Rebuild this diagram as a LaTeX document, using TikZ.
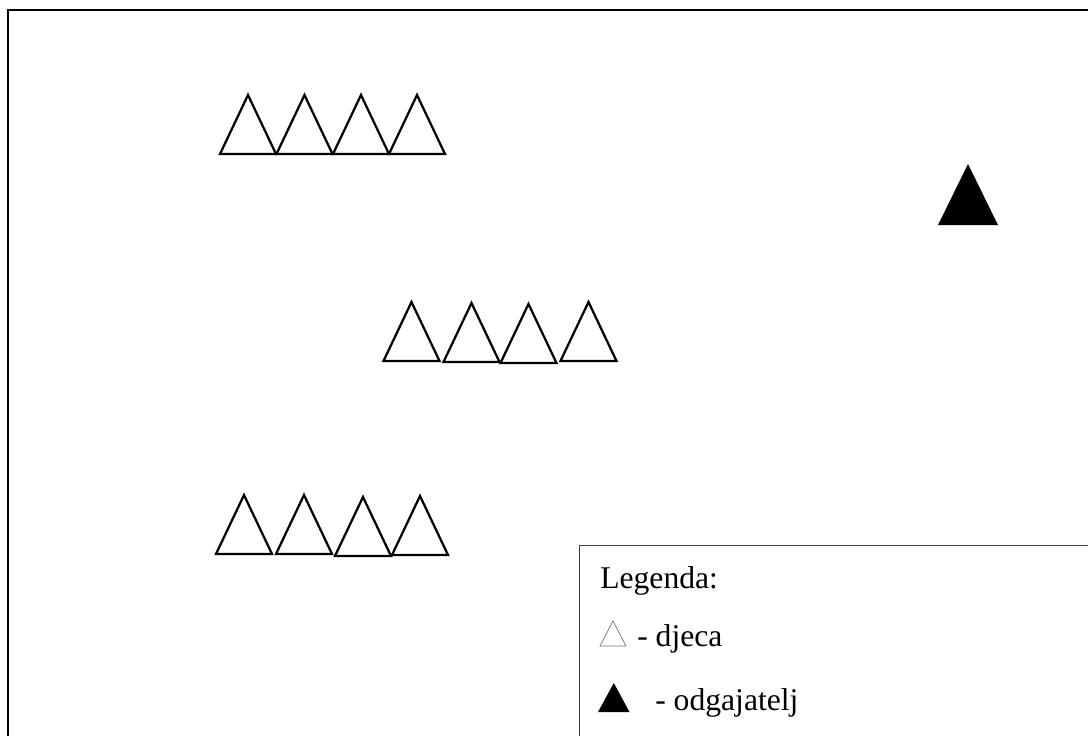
\documentclass[tikz,border=0pt]{standalone}
\usepackage{fontspec}
\setmainfont{Liberation Serif}
\begin{document}
\begin{tikzpicture}[x=0.025cm, y=-0.025cm,
    kid/.pic={\draw[line width=1.6pt, line join=miter] (-28,0) -- (0,-59) -- (28,0) -- cycle;},
    educator/.pic={\fill (-30,0) -- (0,-61) -- (30,0) -- cycle;},
    legtext/.style={anchor=base west, inner sep=0pt, font=\fontsize{22.5}{26}\selectfont}
  ]
    \clip (0,0) rectangle (1088,736);
    % --- Room outline ---
    \draw[line width=1.6pt] (8,10) rectangle (1120,780);

    % --- Children: first row ---
    \pic at (248,154) {kid};
    \pic at (304.5,154) {kid};
    \pic at (361,154) {kid};
    \pic at (417,154) {kid};

    % --- Children: second row ---
    \pic at (411.5,361) {kid};
    \pic at (471.5,362) {kid};
    \pic at (528.5,363) {kid};
    \pic at (588.5,361) {kid};

    % --- Children: third row ---
    \pic at (244,554) {kid};
    \pic at (304,554) {kid};
    \pic at (363,556) {kid};
    \pic at (420,555) {kid};

    % Educator
    \pic at (968,225) {educator};

    % --- Legend ---
    \draw[line width=0.7pt, black!75] (579,545) rectangle (1120,780);
    \node[legtext] (legtitle) at (600,588) {Legenda:};
    \draw[black!55, line width=0.5pt] (600,646) -- (613,621) -- (626,646) -- cycle;
    \node[legtext] (kidlabel) at (637,646) {- djeca};
    \fill (598,712) -- (613.8,683) -- (629.5,712) -- cycle;
    \node[legtext] (edulabel) at (655,710) {- odgajatelj};
  \end{tikzpicture}
\end{document}
